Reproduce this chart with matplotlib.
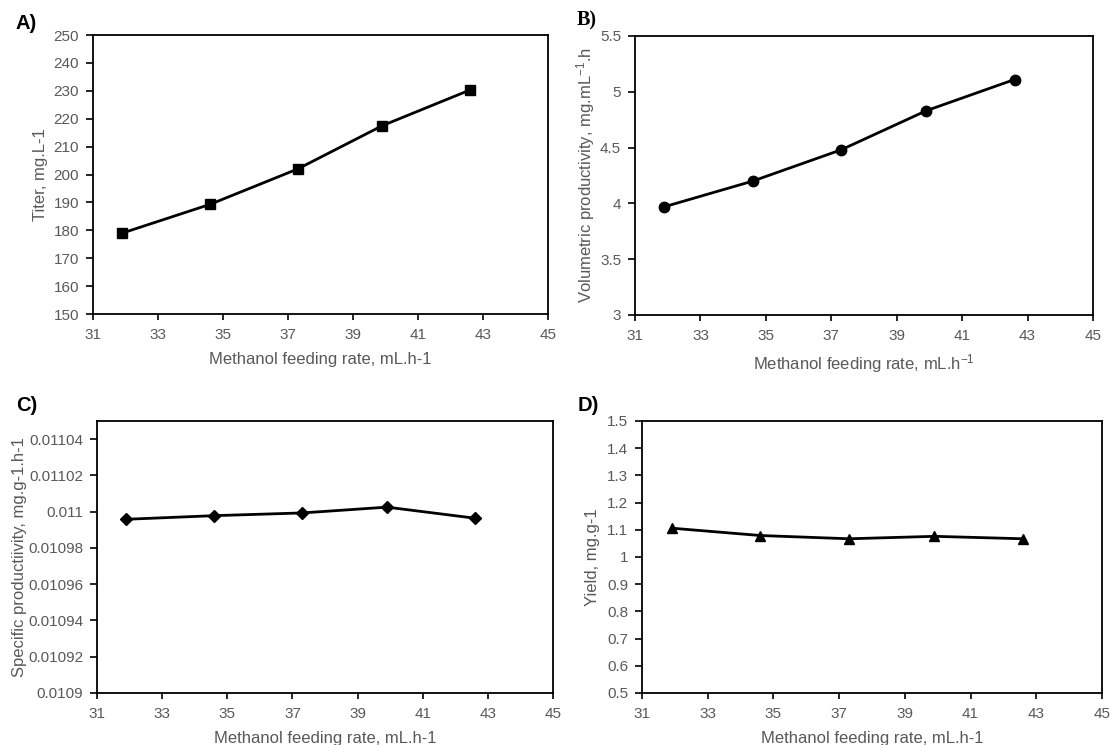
import matplotlib
matplotlib.use("Agg")
import matplotlib.pyplot as plt
from matplotlib.ticker import FuncFormatter

plt.rcParams["font.family"] = ["Liberation Sans", "DejaVu Sans"]
plt.rcParams["mathtext.default"] = "regular"

# Datos
feed_rate = [31.9, 34.6, 37.3, 39.9, 42.6]
titer = [179.0, 189.3, 202.0, 217.5, 230.3]
vol_prod = [3.97, 4.20, 4.48, 4.83, 5.11]
spec_prod = [0.0109958, 0.0109978, 0.0109993, 0.0110025, 0.0109964]
yield_vals = [1.106, 1.079, 1.067, 1.076, 1.067]

x_ticks = [31, 33, 35, 37, 39, 41, 43, 45]
titer_ticks = [150, 160, 170, 180, 190, 200, 210, 220, 230, 240, 250]
vol_ticks = [3, 3.5, 4, 4.5, 5, 5.5]
spec_ticks = [0.0109, 0.01092, 0.01094, 0.01096, 0.01098, 0.011, 0.01102, 0.01104]
yield_ticks = [0.5, 0.6, 0.7, 0.8, 0.9, 1.0, 1.1, 1.2, 1.3, 1.4, 1.5]

grey = "#595959"
fig = plt.figure(figsize=(11.1, 7.45), dpi=100)


def panel(rect, y, marker, msize, yticks, ylim, ylabel, xlabel, ylab_x):
    ax = fig.add_axes(rect)
    ax.plot(feed_rate, y, color="black", linewidth=2,
            marker=marker, markersize=msize)
    ax.set_xlim(31, 45)
    ax.set_xticks(x_ticks)
    ax.set_ylim(*ylim)
    ax.set_yticks(yticks)
    ax.yaxis.set_major_formatter(FuncFormatter(lambda v, p: f"{v:g}"))
    ax.tick_params(direction="out", width=1.2, color="black",
                   labelsize=11, labelcolor=grey)
    ax.tick_params(axis="x", length=4, pad=6)
    ax.tick_params(axis="y", length=5, pad=5)
    for s in ax.spines.values():
        s.set_linewidth(1.3)
        s.set_color("black")
    ax.set_ylabel(ylabel, fontsize=12, color=grey, va="center")
    ax.yaxis.set_label_coords(ylab_x, 0.5)
    ax.set_xlabel(xlabel, fontsize=12, color=grey, labelpad=7)
    return ax


panel([0.0838, 0.5785, 0.4099, 0.3745], titer, "s", 7.5,
      titer_ticks, (150, 250), "Titer, mg.L-1",
      "Methanol feeding rate, mL.h-1", -0.1165)
panel([0.5721, 0.5772, 0.4126, 0.3745], vol_prod, "o", 7.5,
      vol_ticks, (3, 5.5), "Volumetric productivity, mg.mL$^{-1}$.h",
      "Methanol feeding rate, mL.h$^{-1}$", -0.107)
panel([0.0874, 0.0698, 0.4108, 0.3651], spec_prod, "D", 6.5,
      spec_ticks, (0.0109, 0.01105), "Specific productiivity, mg.g-1.h-1",
      "Methanol feeding rate, mL.h-1", -0.1689)
panel([0.5784, 0.0698, 0.4144, 0.3651], yield_vals, "^", 7.5,
      yield_ticks, (0.5, 1.5), "Yield, mg.g-1",
      "Methanol feeding rate, mL.h-1", -0.1087)

# Etiquetas de panel
fig.text(0.0144, 0.969, "A)", fontsize=14.5, fontweight="bold", va="center")
fig.text(0.520, 0.972, "B)", fontsize=14.5, fontweight="bold", va="center",
         family="Liberation Serif")
fig.text(0.0144, 0.456, "C)", fontsize=14.5, fontweight="bold", va="center")
fig.text(0.520, 0.456, "D)", fontsize=14.5, fontweight="bold", va="center")

fig.savefig("out.png", dpi=100)
